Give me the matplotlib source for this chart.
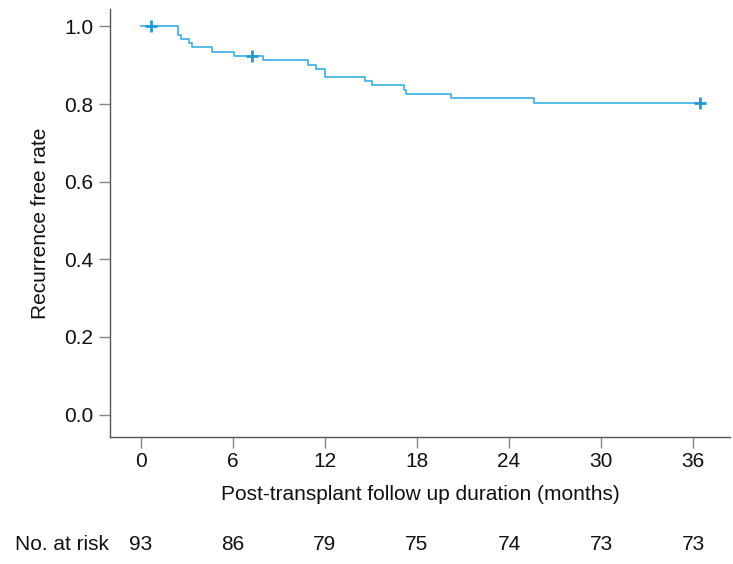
import matplotlib
matplotlib.use("Agg")
import matplotlib.pyplot as plt
from matplotlib.transforms import blended_transform_factory

plt.rcParams['font.family'] = ['Liberation Sans', 'DejaVu Sans']

# Kaplan-Meier steps (months, recurrence-free rate)
step_times = [0, 2.41, 2.63, 3.15, 3.37, 4.63, 6.09, 8.0, 10.87, 11.42, 12.0,
              14.59, 15.09, 17.13, 17.29, 20.24, 25.61, 36.44]
step_values = [1.0, 0.978, 0.968, 0.957, 0.946, 0.935, 0.924, 0.913, 0.902,
               0.891, 0.870, 0.859, 0.848, 0.837, 0.826, 0.815, 0.804, 0.804]
censor_times = [0.69, 7.28, 36.44]
censor_values = [1.0, 0.924, 0.804]

x_ticks = [0, 6, 12, 18, 24, 30, 36]
y_ticks = [0.0, 0.2, 0.4, 0.6, 0.8, 1.0]
at_risk = [93, 86, 79, 75, 74, 73, 73]

line_color = '#3aaee0'
mark_color = '#1f9bd7'

W, H = 733, 564
fig = plt.figure(figsize=(W/100, H/100), dpi=100)
ax = fig.add_axes([110/W, 1 - 436.7/H, (730-110)/W, (436.7-9)/H])

ax.step(step_times, step_values, where='post', color=line_color, lw=1.2)
ax.plot(censor_times, censor_values, linestyle='none', marker='+',
        markersize=8, markeredgewidth=2, color=mark_color)

ax.set_xlim(-2.0, 38.4)
ax.set_ylim(-0.057, 1.045)
ax.set_xticks(x_ticks)
ax.set_yticks(y_ticks)
ax.set_yticklabels([f"{v:.1f}" for v in y_ticks])
for s in ['top', 'right']:
    ax.spines[s].set_visible(False)
for s in ['left', 'bottom']:
    ax.spines[s].set_color('#555555')
    ax.spines[s].set_linewidth(1.0)
ax.tick_params(axis='both', direction='out', length=8, width=1.0,
               color='#888888', labelsize=15, labelcolor='#111111')
ax.tick_params(axis='x', pad=3)
ax.tick_params(axis='y', pad=4)

ax.set_xlabel('Post-transplant follow up duration (months)', fontsize=15,
              color='#111111', labelpad=10)
ax.set_ylabel('Recurrence free rate', fontsize=15, color='#111111', labelpad=10)

trans = blended_transform_factory(ax.transData, fig.transFigure)
y_risk = 1 - 545/H
fig.text(15/W, y_risk, 'No. at risk', fontsize=15, color='#111111',
         ha='left', va='center')
for xt, n in zip(x_ticks, at_risk):
    ax.text(xt, y_risk, str(n), transform=trans, fontsize=15, color='#111111',
            ha='center', va='center', clip_on=False)

fig.savefig('out.png', dpi=100)
